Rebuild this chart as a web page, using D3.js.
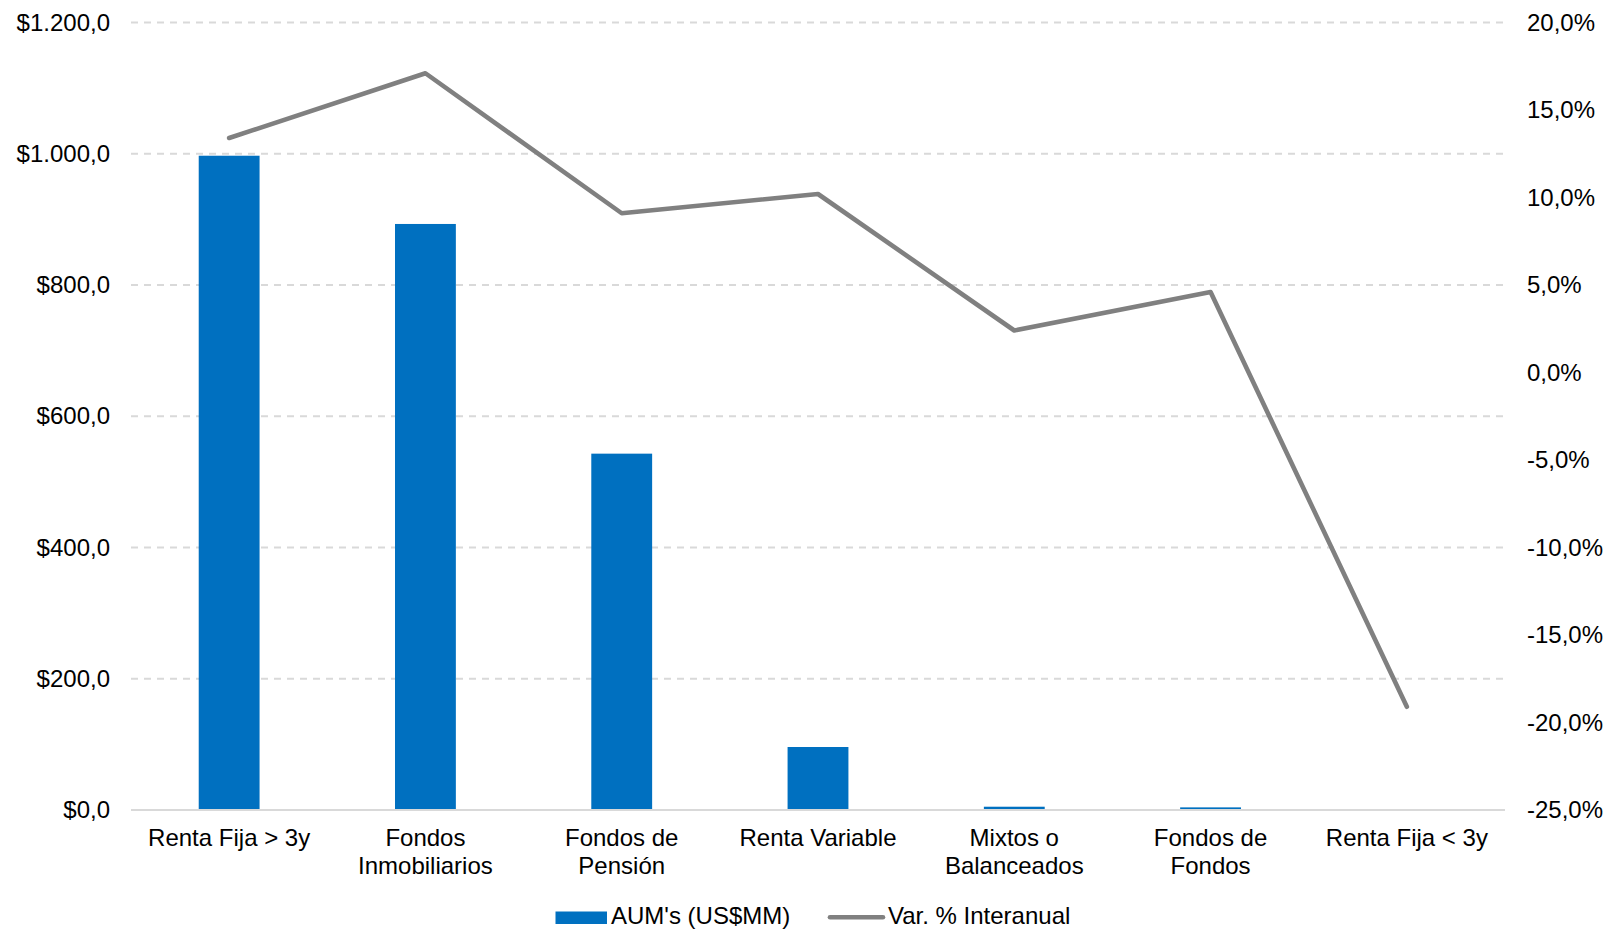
<!DOCTYPE html>
<html>
<head>
<meta charset="utf-8">
<script src="https://cdn.jsdelivr.net/npm/d3@7"></script>
<style>
  html, body { margin: 0; padding: 0; background: #fff; }
  svg { display: block; font-family: "Liberation Sans", Arial, sans-serif; }
</style>
</head>
<body>
<svg id="chart" width="1607" height="931"></svg>
<script>
const categories = [
  ["Renta Fija > 3y"],
  ["Fondos", "Inmobiliarios"],
  ["Fondos de", "Pensión"],
  ["Renta Variable"],
  ["Mixtos o", "Balanceados"],
  ["Fondos de", "Fondos"],
  ["Renta Fija < 3y"]
];
const aumValues = [997, 893, 543, 96, 5, 4, 0.5];
const varValues = [13.4, 17.1, 9.1, 10.2, 2.4, 4.6, -19.1];
const leftTicks = [0, 200, 400, 600, 800, 1000, 1200];
const rightTicks = [20, 15, 10, 5, 0, -5, -10, -15, -20, -25];
const seriesNames = ["AUM's (US$MM)", "Var. % Interanual"];

const svg = d3.select("#chart");
const plot = { left: 131, right: 1505, top: 22.5, bottom: 810 };
const fontSize = 24;

const x = d3.scaleBand()
  .domain(d3.range(categories.length))
  .range([plot.left, plot.right])
  .paddingInner(0.69).paddingOuter(0.345);

const yL = d3.scaleLinear().domain([0, 1200]).range([plot.bottom, plot.top]);
const yR = d3.scaleLinear().domain([-25, 20]).range([plot.bottom, plot.top]);

const fmtNum = v => "$" + d3.format(",.1f")(v).replace(/,/g, "#").replace(/\./g, ",").replace(/#/g, ".");
const fmtPct = v => d3.format(".1f")(v).replace(".", ",").replace("\u2212", "-") + "%";

// gridlines
svg.append("g").selectAll("line")
  .data(leftTicks.filter(t => t > 0))
  .join("line")
  .attr("x1", plot.left).attr("x2", plot.right)
  .attr("y1", d => yL(d)).attr("y2", d => yL(d))
  .attr("stroke", "#d9d9d9").attr("stroke-width", 2)
  .attr("stroke-dasharray", "7,6");

// left axis
const leftAxis = d3.axisLeft(yL).tickValues(leftTicks).tickSize(0).tickPadding(21).tickFormat(fmtNum);
const gL = svg.append("g").attr("transform", `translate(${plot.left},0)`).call(leftAxis);
gL.select(".domain").remove();
gL.selectAll("text").attr("font-size", fontSize).attr("fill", "#000")
  .attr("font-family", "Liberation Sans, Arial, sans-serif");

// right axis
const rightAxis = d3.axisRight(yR).tickValues(rightTicks).tickSize(0).tickPadding(22).tickFormat(fmtPct);
const gR = svg.append("g").attr("transform", `translate(${plot.right},0)`).call(rightAxis);
gR.select(".domain").remove();
gR.selectAll("text").attr("font-size", fontSize).attr("fill", "#000")
  .attr("font-family", "Liberation Sans, Arial, sans-serif");

// bars
svg.append("g").selectAll("rect")
  .data(aumValues)
  .join("rect")
  .attr("x", (d, i) => x(i))
  .attr("width", x.bandwidth())
  .attr("y", d => yL(d))
  .attr("height", d => yL(0) - yL(d))
  .attr("fill", "#0070C0");

// baseline
svg.append("line")
  .attr("x1", plot.left).attr("x2", plot.right)
  .attr("y1", yL(0)).attr("y2", yL(0))
  .attr("stroke", "#d9d9d9").attr("stroke-width", 2);

// line
const line = d3.line()
  .x((d, i) => x(i) + x.bandwidth() / 2)
  .y(d => yR(d));
svg.append("path")
  .datum(varValues)
  .attr("d", line)
  .attr("fill", "none")
  .attr("stroke", "#808080")
  .attr("stroke-width", 4.6)
  .attr("stroke-linecap", "round")
  .attr("stroke-linejoin", "round");

// category labels
const catG = svg.append("g");
categories.forEach((lines, i) => {
  const t = catG.append("text")
    .attr("x", x(i) + x.bandwidth() / 2)
    .attr("y", 846)
    .attr("text-anchor", "middle")
    .attr("font-size", fontSize)
    .attr("fill", "#000");
  lines.forEach((ln, j) => {
    t.append("tspan")
      .attr("x", x(i) + x.bandwidth() / 2)
      .attr("dy", j === 0 ? 0 : 28)
      .text(ln);
  });
});

// legend
const leg = svg.append("g");
leg.append("rect")
  .attr("x", 555.5).attr("y", 911.5).attr("width", 51.5).attr("height", 12.5)
  .attr("fill", "#0070C0");
leg.append("text")
  .attr("x", 611).attr("y", 924)
  .attr("font-size", fontSize).attr("fill", "#000")
  .text(seriesNames[0]);
leg.append("line")
  .attr("x1", 830).attr("x2", 883).attr("y1", 917.3).attr("y2", 917.3)
  .attr("stroke", "#808080").attr("stroke-width", 4.6).attr("stroke-linecap", "round");
leg.append("text")
  .attr("x", 888).attr("y", 924)
  .attr("font-size", fontSize).attr("fill", "#000")
  .text(seriesNames[1]);
</script>
</body>
</html>
